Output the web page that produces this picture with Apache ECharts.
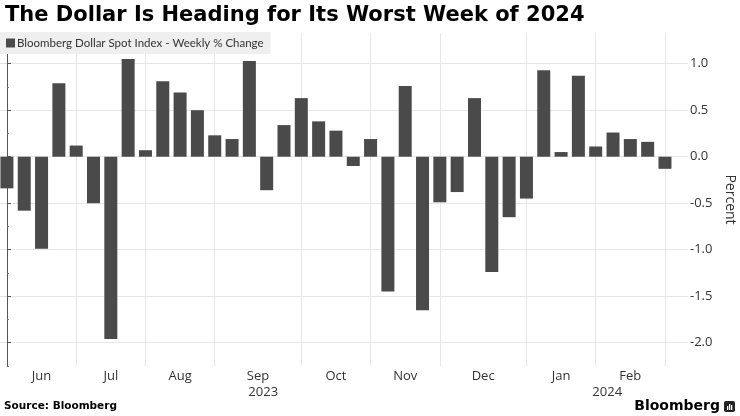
<!DOCTYPE html>
<html>
<head>
<meta charset="utf-8">
<script src="https://cdn.jsdelivr.net/npm/echarts@6/dist/echarts.min.js"></script>
<style>
html, body { margin: 0; padding: 0; background: #fff; }
#main { width: 740px; height: 416px; }
</style>
</head>
<body>
<div id="main"></div>
<script>
// weekly closes (Fridays) and % change of the index
var weeks = [
    '2023-06-02', '2023-06-09', '2023-06-16', '2023-06-23', '2023-06-30',
    '2023-07-07', '2023-07-14', '2023-07-21', '2023-07-28',
    '2023-08-04', '2023-08-11', '2023-08-18', '2023-08-25',
    '2023-09-01', '2023-09-08', '2023-09-15', '2023-09-22', '2023-09-29',
    '2023-10-06', '2023-10-13', '2023-10-20', '2023-10-27',
    '2023-11-03', '2023-11-10', '2023-11-17', '2023-11-24',
    '2023-12-01', '2023-12-08', '2023-12-15', '2023-12-22', '2023-12-29',
    '2024-01-05', '2024-01-12', '2024-01-19', '2024-01-26',
    '2024-02-02', '2024-02-09', '2024-02-16', '2024-02-23'
];
var changes = [
    -0.34, -0.58, -0.99, 0.79, 0.12,
    -0.50, -1.96, 1.05, 0.07,
    0.81, 0.69, 0.50, 0.23,
    0.19, 1.03, -0.36, 0.34, 0.63,
    0.38, 0.28, -0.10, 0.19,
    -1.45, 0.76, -1.65, -0.49,
    -0.38, 0.63, -1.24, -0.65, -0.45,
    0.93, 0.05, 0.87, 0.11,
    0.26, 0.19, 0.16, -0.13
];
var monthNames = ['Jan', 'Feb', 'Mar', 'Apr', 'May', 'Jun', 'Jul', 'Aug', 'Sep', 'Oct', 'Nov', 'Dec'];
var yTicks = [-2, -1.5, -1, -0.5, 0, 0.5, 1];
var yMinorTicks = [-2.25, -1.75, -1.25, -0.75, -0.25, 0.25, 0.75, 1.25];

var xMin = -0.4, xMax = 39.33;
var font = 'Open Sans';

// month separators sit on the last week of each month
var seps = [], monthCenters = [], monthText = {}, yearEnds = {};
var prev = 0;
for (var i = 0; i < weeks.length; i++) {
    var m = weeks[i].slice(0, 7);
    if (i === weeks.length - 1 || weeks[i + 1].slice(0, 7) !== m) {
        seps.push(i);
        var c = (prev + i) / 2;
        monthCenters.push(c);
        monthText[c.toFixed(2)] = monthNames[+m.slice(5, 7) - 1];
        yearEnds[m.slice(0, 4)] = i;
        prev = i;
    }
}
var yearCenters = [], yearText = {};
var start = xMin;
Object.keys(yearEnds).forEach(function (y) {
    var end = y === weeks[weeks.length - 1].slice(0, 4) ? xMax : yearEnds[y];
    var c = (start + end) / 2;
    yearCenters.push(c);
    yearText[c.toFixed(2)] = y;
    start = end;
});

var myChart = echarts.init(document.getElementById('main'));

option = {
    animation: false,
    title: {
        text: 'The Dollar Is Heading for Its Worst Week of 2024',
        left: 0,
        top: 0,
        textStyle: {
            fontFamily: 'DejaVu Sans',
            fontWeight: 'bold',
            fontSize: 21,
            color: '#000'
        }
    },
    legend: {
        data: ['Bloomberg Dollar Spot Index - Weekly % Change'],
        left: 0,
        top: 32,
        icon: 'rect',
        itemWidth: 9,
        itemHeight: 9,
        itemGap: 3,
        padding: [5, 7, 5, 6],
        backgroundColor: '#efefef',
        textStyle: { fontFamily: 'Lato', fontSize: 11.5, color: '#333', padding: [0, 0, 0, -3] }
    },
    grid: { left: 0, right: 52, top: 33, bottom: 50, containLabel: false, outerBoundsMode: 'none' },
    xAxis: [{
        type: 'value',
        min: xMin,
        max: xMax,
        axisLine: { show: false },
        axisTick: { show: false, customValues: seps },
        splitLine: { show: true, lineStyle: { color: '#e6e6e6' } },
        axisLabel: {
            customValues: monthCenters,
            margin: 4,
            fontFamily: font,
            fontSize: 13,
            color: '#333',
            formatter: function (v) { return monthText[v.toFixed(2)] || ''; }
        }
    }, {
        type: 'value',
        position: 'bottom',
        offset: 16,
        min: xMin,
        max: xMax,
        axisLine: { show: false },
        axisTick: { show: false },
        splitLine: { show: false },
        axisLabel: {
            customValues: yearCenters,
            margin: 4,
            fontFamily: font,
            fontSize: 13,
            color: '#333',
            formatter: function (v) { return yearText[v.toFixed(2)] || ''; }
        }
    }],
    yAxis: [{
        type: 'value',
        position: 'right',
        min: -2.25,
        max: 1.33,
        name: 'Percent',
        nameLocation: 'middle',
        nameRotate: -90,
        nameGap: 34,
        nameTextStyle: { fontFamily: font, fontSize: 14, color: '#333' },
        axisLine: { show: true, lineStyle: { color: '#555' } },
        axisTick: { show: true, length: 4, customValues: yTicks, lineStyle: { color: '#555' } },
        splitLine: { show: true, lineStyle: { color: '#e6e6e6' } },
        axisLabel: {
            customValues: yTicks,
            margin: 2,
            fontFamily: font,
            fontSize: 13,
            color: '#333',
            formatter: function (v) { return v.toFixed(1); }
        }
    }, {
        type: 'value',
        position: 'right',
        min: -2.25,
        max: 1.33,
        axisLine: { show: false },
        axisTick: { show: true, length: 2, customValues: yMinorTicks, lineStyle: { color: '#777' } },
        axisLabel: { show: false },
        splitLine: { show: false }
    }],
    series: [{
        name: 'Bloomberg Dollar Spot Index - Weekly % Change',
        type: 'bar',
        barWidth: 13,
        itemStyle: { color: '#4a4a4a' },
        data: changes.map(function (v, i) { return [i, v]; })
    }],
    graphic: [{
        type: 'text',
        left: 4,
        top: 401,
        style: { text: 'Source: Bloomberg', font: 'bold 10.5px "DejaVu Sans"', fill: '#000' }
    }, {
        type: 'text',
        right: 20,
        top: 399,
        style: { text: 'Bloomberg', font: 'bold 14px "DejaVu Sans"', fill: '#000' }
    }, {
        type: 'group',
        right: 5,
        top: 401,
        children: [
            { type: 'rect', shape: { x: 0, y: 0, width: 11, height: 11, r: 2 }, style: { fill: '#222' } },
            { type: 'rect', shape: { x: 3, y: 5, width: 1.3, height: 4 }, style: { fill: '#fff' } },
            { type: 'rect', shape: { x: 5, y: 3, width: 1.3, height: 6 }, style: { fill: '#fff' } },
            { type: 'rect', shape: { x: 7, y: 4, width: 1.3, height: 5 }, style: { fill: '#fff' } }
        ]
    }]
};
myChart.setOption(option);
</script>
</body>
</html>
